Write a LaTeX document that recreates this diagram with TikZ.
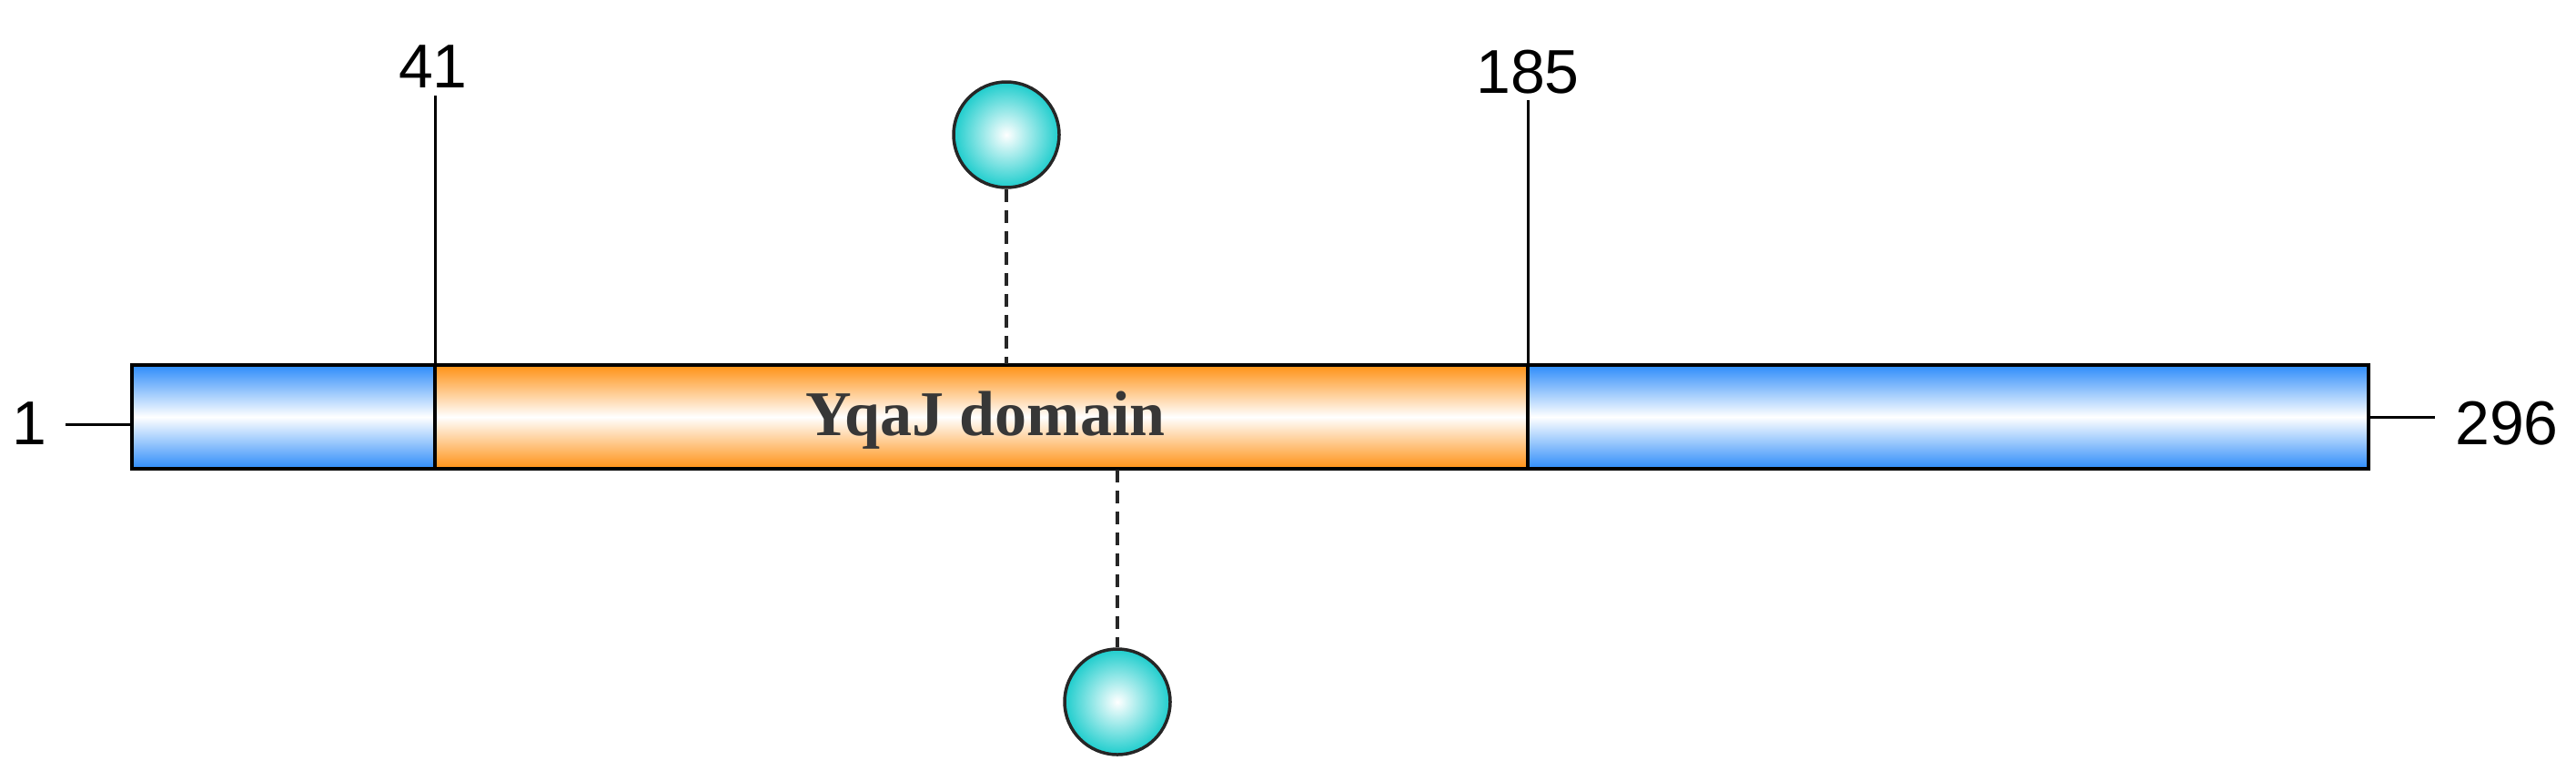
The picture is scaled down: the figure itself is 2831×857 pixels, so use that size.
\documentclass[tikz,border=0pt]{standalone}
\usepackage{fontspec}
\setmainfont{Liberation Sans}
\newfontfamily\serifb{Liberation Serif}
\definecolor{barblue}{RGB}{45,140,250}
\definecolor{barorange}{RGB}{255,145,20}
\definecolor{ballcyan}{RGB}{30,205,205}
\definecolor{txtgray}{RGB}{55,55,55}
\begin{document}
\begin{tikzpicture}[x=1pt,y=-1pt,
  seg/.style={draw=black,line width=4pt,top color=#1,bottom color=#1,middle color=white,inner sep=0pt,outer sep=0pt},
  ballnode/.style={circle,draw=black!85,line width=3.5pt,minimum size=116pt,inner sep=0pt,inner color=white,outer color=ballcyan},
  lbl/.style={font=\fontsize{68}{78}\selectfont,inner sep=0pt},
  tick/.style={line width=3pt,black}]
\useasboundingbox (0,0) rectangle (2831,857);
\node[seg=barblue,minimum width=333pt,minimum height=114pt] (n1) at (311.5,458) {};
\node[seg=barorange,minimum width=1201pt,minimum height=114pt] (dom) at (1078.5,458) {};
\node[seg=barblue,minimum width=924pt,minimum height=114pt] (c1) at (2141,458) {};
\node[font=\serifb\bfseries\fontsize{70}{80}\selectfont,text=txtgray] (dlabel) at (1083,462) {YqaJ domain};
\node[lbl,anchor=base] (l41) at (476,96) {41};
\node[lbl,anchor=base] (l185) at (1679,102) {185};
\node[lbl,anchor=base] (l1) at (32,488) {1};
\node[lbl,anchor=base] (l296) at (2755,488) {296};
\coordinate (t41) at (478,105);
\coordinate (t185) at (1679,110);
\coordinate (a1) at (72,466);
\coordinate (a2) at (2676,458);
\draw[tick] (t41) -- (dom.north west);
\draw[tick] (t185) -- (dom.north east);
\draw[tick] (a1) -- (a1 -| n1.west);
\draw[tick] (a2 -| c1.east) -- (a2);
\node[ballnode] (b1) at (1106,148) {};
\node[ballnode] (b2) at (1228,771) {};
\coordinate (d1) at (1106,400);
\coordinate (d2) at (1228,516);
\draw[line width=3.5pt,black!85,dash pattern=on 14pt off 9pt] (b1.south) -- (d1);
\draw[line width=3.5pt,black!85,dash pattern=on 14pt off 9pt] (d2) -- (b2.north);
\end{tikzpicture}
\end{document}
